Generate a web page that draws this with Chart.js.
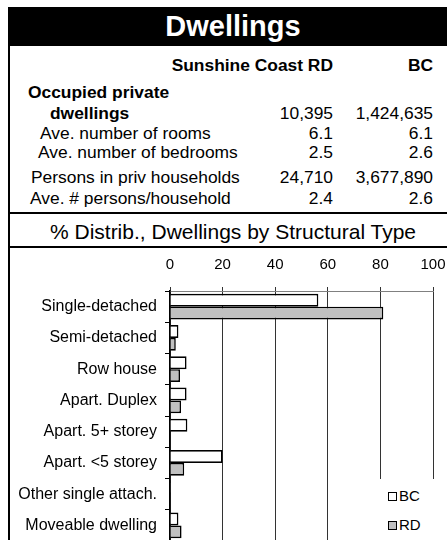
<!DOCTYPE html>
<html>
<head>
<meta charset="utf-8">
<script src="https://cdn.jsdelivr.net/npm/chart.js@4"></script>
<style>
  html, body { margin: 0; padding: 0; background: #fff; }
  body { font-family: "Liberation Sans", Arial, sans-serif; color: #000; }
  #wrap { position: relative; width: 447px; height: 540px; overflow: hidden; background: #fff; }
  .abs { position: absolute; white-space: nowrap; }
  #band { left: 8px; top: 7px; width: 450px; height: 39px; background: #000; color: #fff;
          font-weight: bold; font-size: 29px; line-height: 39px; text-align: center; }
  #leftRule { left: 8px; top: 45px; width: 2px; height: 495px; background: #000; }
  .hrule { left: 8px; width: 439px; height: 2px; background: #000; }
  .cell { font-size: 17.4px; line-height: 20px; }
  .r { text-align: right; }
  #legend { left: 374px; top: 479px; width: 73px; height: 61px; background: #fff; }
  .lgItem { position: absolute; left: 14px; font-size: 15px; line-height: 18px; }
  .sw { display: inline-block; width: 7px; height: 7px; border: 1.5px solid #000; margin-right: 2px; }
  #chartBox { left: 0; top: 248px; }
</style>
</head>
<body>
<div id="wrap">
  <div id="band" class="abs">Dwellings</div>
  <div id="leftRule" class="abs"></div>
  <div class="abs hrule" style="top:212px"></div>
  <div class="abs hrule" style="top:246px"></div>
  <div class="abs cell" style="left:10px;width:446px;top:220px;font-size:21px;line-height:24px;text-align:center">% Distrib., Dwellings by Structural Type</div>
  <div id="table"></div>
  <div id="chartBox" class="abs"><canvas id="mycanvas" width="447" height="293"></canvas></div>
  <div id="legend" class="abs">
    <div class="lgItem" style="top:8px"><span class="sw" style="background:#fff"></span>BC</div>
    <div class="lgItem" style="top:37px"><span class="sw" style="background:#c0c0c0"></span>RD</div>
  </div>
</div>
<script>
// table data
var colHeads = ['Sunshine Coast RD', 'BC'];
var statLabels = ['Occupied private', 'dwellings', 'Ave. number of rooms', 'Ave. number of bedrooms',
                  'Persons in priv households', 'Ave. # persons/household'];
var rdStats = ['', '10,395', '6.1', '2.5', '24,710', '2.4'];
var bcStats = ['', '1,424,635', '6.1', '2.6', '3,677,890', '2.6'];

// chart data
var categories = ['Single-detached', 'Semi-detached', 'Row house', 'Apart. Duplex',
                  'Apart. 5+ storey', 'Apart. <5 storey', 'Other single attach.', 'Moveable dwelling'];
var bcShare = [56.4, 3.2, 6.3, 6.3, 6.6, 20.0, 0.3, 3.2];
var rdShare = [81.1, 2.2, 3.8, 4.2, 0, 5.4, 0.2, 4.4];
var xTicks = [0, 20, 40, 60, 80, 100];

// layout of the table rows
var rowY = [92, 113, 133, 152, 177, 198];
var rowX = [28, 50, 40, 38, 31, 30];
var rowBold = [true, true, false, false, false, false];

var table = document.getElementById('table');
function addCell(text, x, y, right, bold) {
	var d = document.createElement('div');
	d.className = 'abs cell' + (right ? ' r' : '');
	d.textContent = text;
	if (right) { d.style.left = (x - 200) + 'px'; d.style.width = '200px'; }
	else d.style.left = x + 'px';
	d.style.top = (y - 10) + 'px';
	if (bold) d.style.fontWeight = 'bold';
	table.appendChild(d);
}
addCell(colHeads[0], 333, 65, true, true);
addCell(colHeads[1], 433, 65, true, true);
for (var i in statLabels) {
	addCell(statLabels[i], rowX[i], rowY[i], false, rowBold[i]);
	addCell(rdStats[i], 333, rowY[i], true, false);
	addCell(bcStats[i], 433, rowY[i], true, false);
}

var fam = '"Liberation Sans", Arial, sans-serif';
var ctx = document.getElementById('mycanvas');
var barGraph = new Chart(ctx, {
	type: 'bar',
	data: {
		labels: categories,
		datasets: [
			{ label: 'BC', data: bcShare, backgroundColor: '#ffffff', borderColor: '#000', borderWidth: 1.6 },
			{ label: 'RD', data: rdShare, backgroundColor: '#c0c0c0', borderColor: '#000', borderWidth: 1.6 }
		]
	},
	options: {
		indexAxis: 'y',
		responsive: false,
		animation: false,
		layout: { padding: 0 },
		datasets: { bar: { categoryPercentage: 0.82, barPercentage: 1.0 } },
		plugins: { legend: { display: false }, tooltip: { enabled: false } },
		scales: {
			x: {
				position: 'top',
				min: xTicks[0],
				max: xTicks[xTicks.length - 1],
				afterBuildTicks: function(s){ s.ticks = xTicks.map(function(v){ return { value: v }; }); },
				ticks: { color: '#000', font: { family: fam, size: 15 }, padding: 13 },
				grid: { color: '#333', lineWidth: 1, tickLength: 4 },
				border: { color: '#808080', width: 1 },
				afterFit: function(s){ s.height = 43; s.paddingLeft = 0; s.paddingRight = 14; }
			},
			y: {
				ticks: { color: '#000', font: { family: fam, size: 16 }, padding: 8 },
				grid: { offset: true, drawOnChartArea: false, tickLength: 5, color: '#000' },
				border: { color: '#000', width: 1.5 },
				afterFit: function(s){ s.width = 170; s.paddingTop = 0; s.paddingBottom = 0; }
			}
		}
	}
});
</script>
</body>
</html>
